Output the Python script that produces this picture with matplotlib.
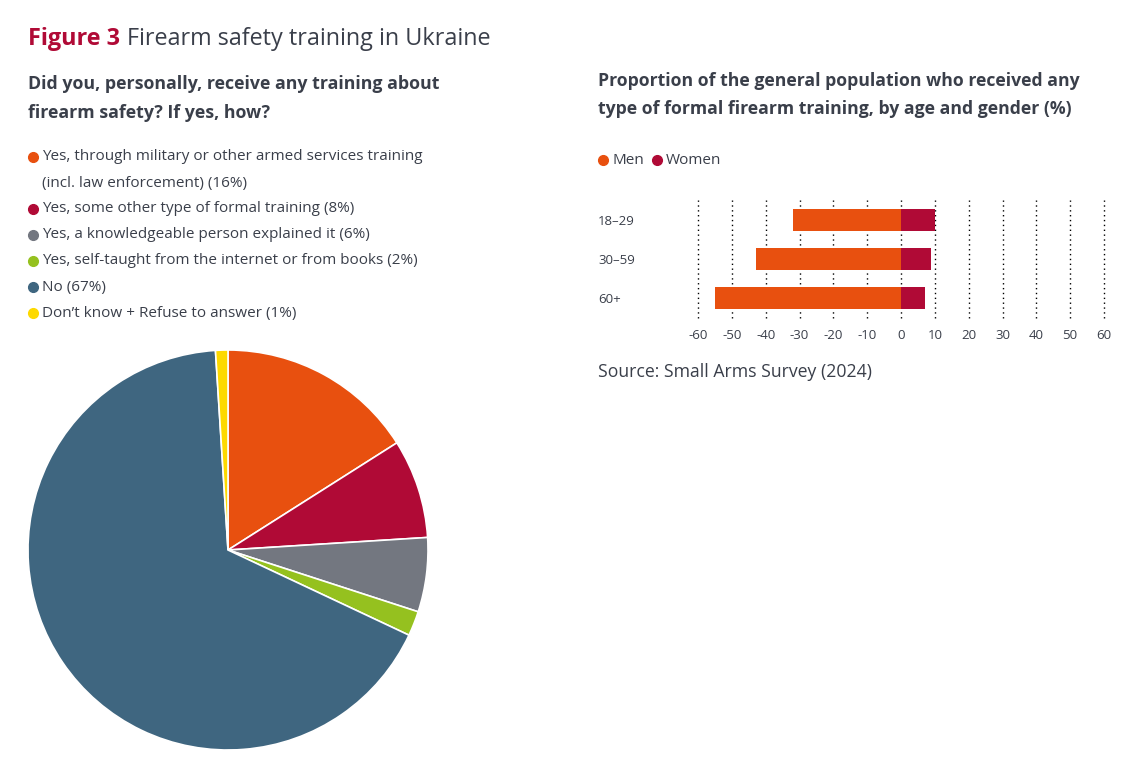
import matplotlib
matplotlib.use("Agg")
import matplotlib.pyplot as plt
from matplotlib.lines import Line2D

plt.rcParams['font.family'] = ['Open Sans', 'DejaVu Sans']

# ---------------- data ----------------
pie_labels = [
    "Yes, through military or other armed services training\n(incl. law enforcement) (16%)",
    "Yes, some other type of formal training (8%)",
    "Yes, a knowledgeable person explained it (6%)",
    "Yes, self-taught from the internet or from books (2%)",
    "No (67%)",
    "Don\u2019t know + Refuse to answer (1%)",
]
pie_values = [16, 8, 6, 2, 67, 1]
pie_colors = ["#e8500f", "#b00a36", "#737780", "#95c11f", "#3f6680", "#fdd900"]

age_groups = ["18\u201329", "30\u201359", "60+"]
men = [32, 43, 55]
women = [10, 9, 7]
x_ticks = [-60, -50, -40, -30, -20, -10, 0, 10, 20, 30, 40, 50, 60]

# ---------------- figure ----------------
W, H = 1135, 771
fig = plt.figure(figsize=(W / 100, H / 100), dpi=100)
TXT = "#3a3f4a"
RED = "#b00a36"


def fx(px):
    return px / W


def fy(py):
    return 1 - py / H


# title
t1 = fig.text(fx(28), fy(39), "Figure 3", fontsize=16.8, fontweight='bold', color=RED, va='center', ha='left')
fig.canvas.draw()
bb = t1.get_window_extent()
fig.text(bb.x1 / W + 0.006, fy(39), "Firearm safety training in Ukraine", fontsize=16.8, color=TXT,
         va='center', ha='left')

# left subtitle
fig.text(fx(28), fy(84), "Did you, personally, receive any training about", fontsize=12.8, fontweight='bold',
         color=TXT, va='center', ha='left')
fig.text(fx(28), fy(113), "firearm safety? If yes, how?", fontsize=12.8, fontweight='bold',
         color=TXT, va='center', ha='left')

# pie legend
legend_y = [157, 209, 235, 261, 287, 313]
for lab, col, y in zip(pie_labels, pie_colors, legend_y):
    fig.add_artist(Line2D([fx(33)], [fy(y)], marker='o', markersize=7, color=col, linestyle='none',
                          transform=fig.transFigure))
    lines = lab.split("\n")
    for i, ln in enumerate(lines):
        fig.text(fx(42), fy(y + 26 * i), ln, fontsize=11, color=TXT, va='center', ha='left')

# pie
axp = fig.add_axes([fx(28), fy(750), 400 / W, 400 / H])
axp.pie(pie_values, colors=pie_colors, startangle=90, counterclock=False,
        wedgeprops=dict(edgecolor='white', linewidth=1.2))
axp.set_xlim(-1, 1)
axp.set_ylim(-1, 1)
axp.set_aspect('equal')
axp.axis('off')

# right subtitle
fig.text(fx(598), fy(81), "Proportion of the general population who received any", fontsize=12.7,
         fontweight='bold', color=TXT, va='center', ha='left')
fig.text(fx(598), fy(109), "type of formal firearm training, by age and gender (%)", fontsize=12.7,
         fontweight='bold', color=TXT, va='center', ha='left')

# bar legend
fig.add_artist(Line2D([fx(603)], [fy(160)], marker='o', markersize=7, color=pie_colors[0], linestyle='none',
                      transform=fig.transFigure))
fig.text(fx(612), fy(160), "Men", fontsize=11, color=TXT, va='center', ha='left')
fig.add_artist(Line2D([fx(657)], [fy(160)], marker='o', markersize=7, color=RED, linestyle='none',
                      transform=fig.transFigure))
fig.text(fx(666), fy(160), "Women", fontsize=11, color=TXT, va='center', ha='left')

# bar chart
axb = fig.add_axes([fx(698), fy(318), (1104 - 698) / W, (318 - 200) / H])
ypos = list(range(len(age_groups)))
axb.barh(ypos, [-m for m in men], height=0.56, color=pie_colors[0], zorder=3)
axb.barh(ypos, women, height=0.56, color=RED, zorder=3)
for xv in x_ticks:
    axb.axvline(xv, color='black', linestyle=(0, (1, 2.5)), linewidth=1, zorder=1, clip_on=False)
axb.set_xlim(-60, 60)
axb.set_ylim(2.5, -0.5)
axb.set_xticks(x_ticks)
axb.set_xticklabels([str(v) for v in x_ticks], fontsize=9.5, color=TXT)
axb.set_yticks(ypos)
axb.set_yticklabels(age_groups, fontsize=9.5, color=TXT, ha='left')
axb.tick_params(axis='x', length=0, pad=8)
axb.tick_params(axis='y', length=0, pad=72)
for s in axb.spines.values():
    s.set_visible(False)

fig.text(fx(598), fy(372), "Source: Small Arms Survey (2024)", fontsize=12.7, color=TXT, va='center', ha='left')

fig.savefig("out.png", dpi=100, facecolor='white')
